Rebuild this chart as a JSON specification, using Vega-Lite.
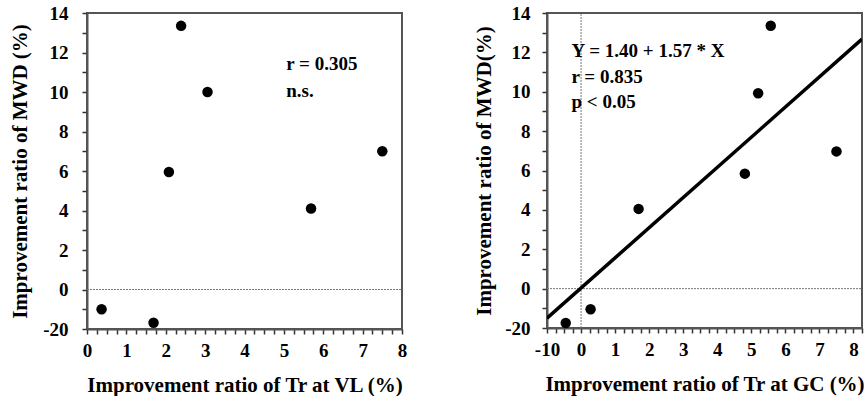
{
  "$schema": "https://vega.github.io/schema/vega-lite/v6.json",
  "padding": {"left": 8, "top": 3, "right": 0, "bottom": 0},
  "background": "white",
  "bounds": "flush",
  "spacing": 145,
  "datasets": {
    "leftPts": [
      {"x": 2.39, "y": 13.35},
      {"x": 3.06, "y": 10.0},
      {"x": 2.08, "y": 5.95},
      {"x": 7.5, "y": 7.0},
      {"x": 5.69, "y": 4.1},
      {"x": 0.37, "y": -1.0},
      {"x": 1.69, "y": -1.68}
    ],
    "rightPts": [
      {"x": 5.57, "y": 13.35},
      {"x": 5.2, "y": 9.92},
      {"x": 7.5, "y": 6.97},
      {"x": 4.81, "y": 5.84},
      {"x": 1.69, "y": 4.05},
      {"x": 0.28, "y": -1.05},
      {"x": -0.45, "y": -1.75}
    ],
    "leftText": [
      {"x": 5.06, "y": 11.4, "label": "r = 0.305"},
      {"x": 5.06, "y": 10.05, "label": "n.s."}
    ],
    "rightText": [
      {"x": -0.28, "y": 12.08, "label": "Y = 1.40 + 1.57 * X"},
      {"x": -0.28, "y": 10.77, "label": "r = 0.835"},
      {"x": -0.28, "y": 9.46, "label": "p < 0.05"}
    ],
    "regLine": [
      {"x": -1, "y": -1.5},
      {"x": 8.25, "y": 12.67}
    ],
    "leftZero": [
      {"x": 0, "y": 0, "g": "h"},
      {"x": 8, "y": 0, "g": "h"}
    ],
    "rightZero": [
      {"x": -1, "y": 0, "g": "h"},
      {"x": 8.25, "y": 0, "g": "h"},
      {"x": 0, "y": -2, "g": "v"},
      {"x": 0, "y": 14, "g": "v"}
    ]
  },
  "hconcat": [
    {
      "width": 315,
      "height": 316,
      "encoding": {
        "x": {
          "field": "x", "type": "quantitative",
          "scale": {"domain": [0, 8], "nice": false, "zero": false},
          "axis": {
            "title": "Improvement ratio of Tr at VL (%)",
            "values": [0,0.25,0.5,0.75,1,1.25,1.5,1.75,2,2.25,2.5,2.75,3,3.25,3.5,3.75,4,4.25,4.5,4.75,5,5.25,5.5,5.75,6,6.25,6.5,6.75,7,7.25,7.5,7.75,8],
            "labelExpr": "datum.value % 1 == 0 ? format(datum.value, 'd') : ''",
            "labelOverlap": false,
            "labelPadding": 7,
            "titlePadding": 14
          }
        },
        "y": {
          "field": "y", "type": "quantitative",
          "scale": {"domain": [-2, 14], "nice": false, "zero": false},
          "axis": {
            "title": "Improvement ratio of MWD (%)",
            "values": [-2,-1,0,1,2,3,4,5,6,7,8,9,10,11,12,13,14],
            "labelExpr": "datum.value == -2 ? '-20' : (datum.value % 2 == 0 ? format(datum.value, 'd') : '')",
            "labelOverlap": false,
            "labelPadding": 14,
            "titlePadding": 12
          }
        }
      },
      "layer": [
        {
          "data": {"name": "leftZero"},
          "mark": {"type": "line", "color": "#777", "strokeWidth": 1, "strokeDash": [2, 1]},
          "encoding": {"detail": {"field": "g"}}
        },
        {
          "data": {"name": "leftPts"},
          "mark": {"type": "point", "filled": true, "shape": "circle", "color": "black", "size": 110, "opacity": 1}
        },
        {
          "data": {"name": "leftText"},
          "mark": {"type": "text", "align": "left", "baseline": "middle", "fontSize": 19, "fontWeight": "bold", "font": "Liberation Serif", "color": "black"},
          "encoding": {"text": {"field": "label"}}
        }
      ]
    },
    {
      "width": 315,
      "height": 315,
      "encoding": {
        "x": {
          "field": "x", "type": "quantitative",
          "scale": {"domain": [-1, 8.25], "nice": false, "zero": false},
          "axis": {
            "title": "Improvement ratio of Tr at GC (%)",
            "values": [-1,-0.75,-0.5,-0.25,0,0.25,0.5,0.75,1,1.25,1.5,1.75,2,2.25,2.5,2.75,3,3.25,3.5,3.75,4,4.25,4.5,4.75,5,5.25,5.5,5.75,6,6.25,6.5,6.75,7,7.25,7.5,7.75,8,8.25],
            "labelExpr": "datum.value == -1 ? '-10' : (datum.value % 1 == 0 && datum.value <= 8 ? format(datum.value, 'd') : '')",
            "labelOverlap": false,
            "labelPadding": 7,
            "titlePadding": 14
          }
        },
        "y": {
          "field": "y", "type": "quantitative",
          "scale": {"domain": [-2, 14], "nice": false, "zero": false},
          "axis": {
            "title": "Improvement ratio of MWD(%)",
            "values": [-2,-1,0,1,2,3,4,5,6,7,8,9,10,11,12,13,14],
            "labelExpr": "datum.value == -2 ? '-20' : (datum.value % 2 == 0 ? format(datum.value, 'd') : '')",
            "labelOverlap": false,
            "labelPadding": 12,
            "titlePadding": 10
          }
        }
      },
      "layer": [
        {
          "data": {"name": "rightZero"},
          "mark": {"type": "line", "color": "#777", "strokeWidth": 1, "strokeDash": [2, 1]},
          "encoding": {"detail": {"field": "g"}}
        },
        {
          "data": {"name": "regLine"},
          "mark": {"type": "line", "color": "black", "strokeWidth": 3.5, "clip": true}
        },
        {
          "data": {"name": "rightPts"},
          "mark": {"type": "point", "filled": true, "shape": "circle", "color": "black", "size": 110, "opacity": 1}
        },
        {
          "data": {"name": "rightText"},
          "mark": {"type": "text", "align": "left", "baseline": "middle", "fontSize": 19, "fontWeight": "bold", "font": "Liberation Serif", "color": "black"},
          "encoding": {"text": {"field": "label"}}
        }
      ]
    }
  ],
  "config": {
    "font": "Liberation Serif",
    "view": {"stroke": "#555", "strokeWidth": 2},
    "axis": {
      "grid": false,
      "domain": true,
      "domainColor": "#555",
      "domainWidth": 2,
      "ticks": true,
      "tickSize": 5,
      "tickColor": "#333",
      "tickWidth": 1.5,
      "tickOpacity": 1,
      "zindex": 2,
      "labelFont": "Liberation Serif",
      "labelFontSize": 19,
      "labelFontWeight": "bold",
      "labelColor": "black",
      "labelFlush": false,
      "titleFont": "Liberation Serif",
      "titleFontSize": 21,
      "titleFontWeight": "bold",
      "titleColor": "black"
    }
  }
}
